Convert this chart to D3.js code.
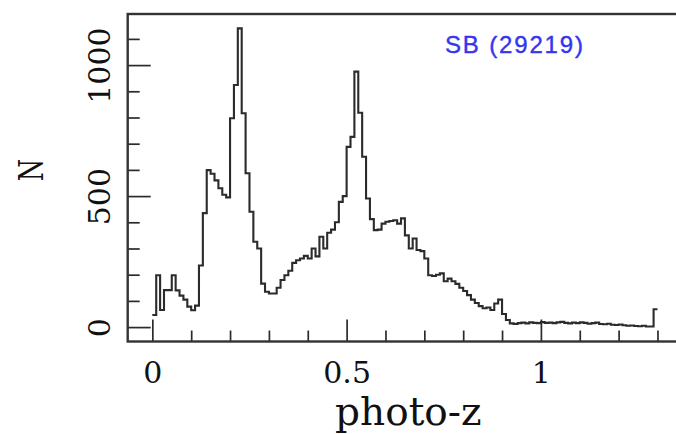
<!DOCTYPE html>
<html>
<head>
<meta charset="utf-8">
<script src="https://cdn.jsdelivr.net/npm/d3@7"></script>
<style>
  html, body { margin: 0; padding: 0; background: #fff; overflow: hidden; }
  svg { display: block; }
</style>
</head>
<body>
<svg id="chart" width="676" height="434"></svg>
<script>
// Photometric-redshift histogram of the SB sample (bins of 0.01 in z, starting at z = 0)
const binStart = 0;
const binWidth = 0.01;
const counts = [
  46, 198, 65, 141, 141, 198, 140, 120, 105, 78,
  64, 82, 235, 435, 599, 585, 560, 530, 505, 495,
  797, 924, 1140, 816, 587, 440, 326, 300, 166, 135,
  128, 128, 150, 180, 198, 215, 245, 255, 262, 272,
  262, 300, 270, 345, 300, 360, 372, 400, 478, 500,
  688, 726, 975, 818, 650, 491, 412, 370, 372, 395,
  402, 405, 408, 395, 415, 350, 300, 338, 294, 290,
  262, 198, 195, 200, 205, 175, 185, 175, 165, 150,
  138, 122, 105, 92, 80, 72, 75, 65, 90, 105,
  50, 27, 14, 12, 15, 17, 14, 18, 16, 15,
  19, 16, 17, 15, 18, 20, 16, 14, 17, 15,
  18, 16, 13, 15, 17, 12, 11, 13, 9, 8,
  10, 7, 5, 6, 4, 3, 5, 2, 2, 68
];

const xMajorTicks = [0, 0.5, 1];
const xTickLabels = ["0", "0.5", "1"];
const xMinorTicks = [0.1, 0.2, 0.3, 0.4, 0.6, 0.7, 0.8, 0.9, 1.1, 1.2, 1.3];
const yMajorTicks = [0, 500, 1000];
const yTickLabels = ["0", "500", "1000"];
const yMinorTicks = [100, 200, 300, 400, 600, 700, 800, 900, 1100];

const xTitle = "photo-z";
const yTitle = "N";
const sampleLabel = "SB (29219)";

// ---- layout ----
const W = 676, H = 434;
const plot = { left: 127.7, top: 14, right: 676.9, bottom: 341.5 };
const svg = d3.select("#chart");
svg.append("rect").attr("width", W).attr("height", H).attr("fill", "#fff");

const x = d3.scaleLinear().domain([-0.0634, 1.35]).range([plot.left, plot.right]);
const y = d3.scaleLinear().domain([-55, 1195]).range([plot.bottom, plot.top]);

const ink = "#2b2b2b";
const serif = "'DejaVu Serif', 'Liberation Serif', serif";

// ---- histogram outline (stepped) ----
const steps = counts.map((n, i) => [binStart + i * binWidth, n]);
steps.push([binStart + counts.length * binWidth, counts[counts.length - 1]]);

const stepLine = d3.line()
  .x(d => x(d[0]))
  .y(d => y(d[1]))
  .curve(d3.curveStepAfter);

svg.append("path")
  .datum(steps)
  .attr("d", stepLine)
  .attr("fill", "none")
  .attr("stroke", ink)
  .attr("stroke-width", 2.1)
  .attr("stroke-linejoin", "miter");

// ---- axes (ticks point inward) ----
function styleAxis(g) {
  g.select(".domain").remove();
  g.selectAll(".tick line").attr("stroke", ink).attr("stroke-width", 1.7);
}

svg.append("g")
  .attr("transform", `translate(0,${plot.bottom})`)
  .call(d3.axisBottom(x).tickValues(xMinorTicks).tickSize(-11).tickFormat(""))
  .call(styleAxis);

svg.append("g")
  .attr("transform", `translate(0,${plot.bottom})`)
  .call(d3.axisBottom(x).tickValues(xMajorTicks).tickSize(-22).tickPadding(20)
    .tickFormat((d, i) => xTickLabels[i]))
  .call(styleAxis)
  .call(g => g.selectAll("text")
    .attr("fill", "#111")
    .style("font-family", serif)
    .style("font-size", "30px"));

svg.append("g")
  .attr("transform", `translate(${plot.left},0)`)
  .call(d3.axisLeft(y).tickValues(yMinorTicks).tickSize(-12).tickFormat(""))
  .call(styleAxis);

svg.append("g")
  .attr("transform", `translate(${plot.left},0)`)
  .call(d3.axisLeft(y).tickValues(yMajorTicks).tickSize(-23)
    .tickFormat((d, i) => yTickLabels[i]))
  .call(styleAxis)
  .call(g => g.selectAll("text")
    .attr("x", 0)
    .attr("y", 0)
    .attr("dy", null)
    .attr("text-anchor", "middle")
    .attr("transform", "translate(-18,0) rotate(-90)")
    .attr("fill", "#111")
    .style("font-family", serif)
    .style("font-size", "30px"));

// ---- frame ----
svg.append("rect")
  .attr("x", plot.left)
  .attr("y", plot.top)
  .attr("width", plot.right - plot.left + 10)
  .attr("height", plot.bottom - plot.top)
  .attr("fill", "none")
  .attr("stroke", "#333")
  .attr("stroke-width", 2.4);

// ---- titles ----
svg.append("text")
  .attr("x", (plot.left + plot.right) / 2 + 6)
  .attr("y", 425)
  .attr("text-anchor", "middle")
  .attr("fill", "#111")
  .style("font-family", serif)
  .style("font-size", "39px")
  .text(xTitle);

svg.append("text")
  .attr("transform", "translate(43,170) rotate(-90) scale(0.75,1)")
  .attr("text-anchor", "middle")
  .attr("fill", "#111")
  .style("font-family", serif)
  .style("font-size", "34px")
  .text(yTitle);

svg.append("text")
  .attr("x", 445)
  .attr("y", 53)
  .attr("fill", "#3535ee")
  .attr("stroke", "#3535ee")
  .attr("stroke-width", 0.4)
  .attr("textLength", 138)
  .attr("lengthAdjust", "spacing")
  .style("font-family", "'Liberation Sans', Arial, sans-serif")
  .style("font-size", "24px")
  .text(sampleLabel);
</script>
</body>
</html>
